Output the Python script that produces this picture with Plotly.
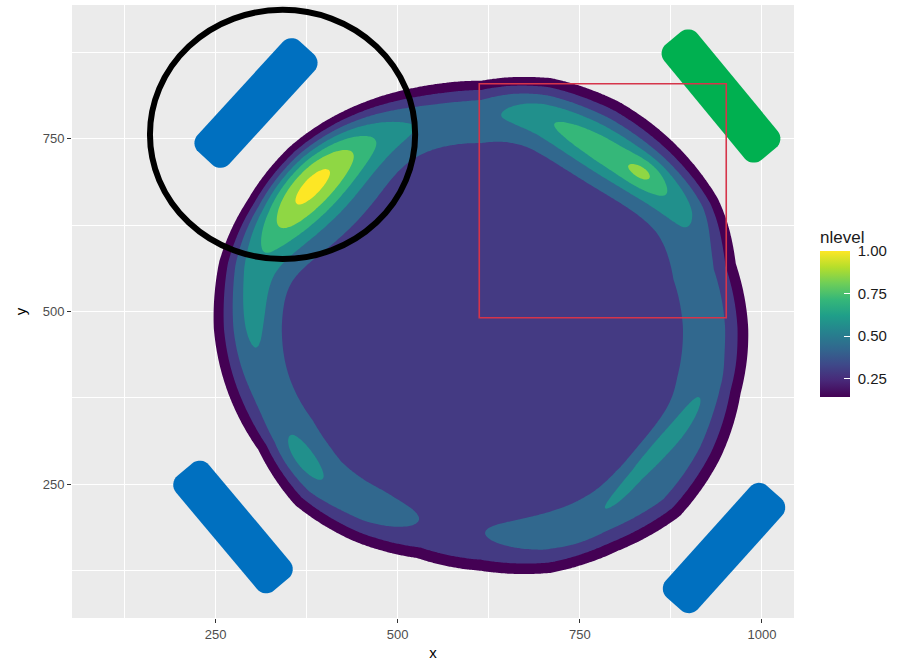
import numpy as np
import plotly.graph_objects as go

# ---------------- data ----------------
# density ring: centre, outer edge radius per angle, ring strength per angle (in contour-level units)
center_x = 615
center_y = 476
edge_angle_deg = [0, 15, 30, 45, 60, 75, 90, 105, 120, 135, 150, 165,
                  180, 195, 210, 225, 240, 255, 270, 285, 300, 315, 330, 345]
edge_radius = [366, 361, 373, 376, 378, 374, 357, 359, 362, 366, 365, 370,
               367, 360, 353, 362, 355, 345, 352, 367, 373, 385, 378, 368]
ring_strength = [1.10, 1.10, 1.15, 1.15, 1.15, 1.15, 1.20, 1.25, 1.30, 1.30, 1.25, 1.15,
                 1.05, 1.02, 1.02, 1.05, 0.95, 0.40, 0.45, 0.90, 1.00, 1.10, 1.15, 1.10]
interior_level = 2.55

# local maxima of the density (hot spots)
hot_x = [380, 790, 838, 300, 366, 845]
hot_y = [682, 722, 702, 505, 288, 290]
hot_peak = [3.55, 2.15, 0.8, 0.75, 0.85, 1.15]
hot_len = [80, 95, 20, 60, 40, 75]
hot_wid = [40, 25, 13, 20, 18, 12]
hot_dir = [47, -32, -32, 90, 128, 50]

n_levels = 7
nlevel_ticks = [0.25, 0.50, 0.75, 1.00]
x_ticks = [250, 500, 750, 1000]
y_ticks = [250, 500, 750]

# ---------------- density field ----------------
gx = np.arange(180, 1050, 3.0)
gy = np.arange(60, 900, 3.0)
X, Y = np.meshgrid(gx, gy)
dx = X - center_x
dy = Y - center_y
r = np.hypot(dx, dy)
th = np.degrees(np.arctan2(dy, dx)) % 360
R = np.interp(th, edge_angle_deg, edge_radius, period=360)
A = np.interp(th, edge_angle_deg, ring_strength, period=360)
u = r / R
S = 1.0 / (1.0 + np.exp((u - 0.985) / 0.03))
T = interior_level + A * np.exp(-((u - 0.85) / 0.1) ** 2)
for hx, hy, hp, hl, hw, hd in zip(hot_x, hot_y, hot_peak, hot_len, hot_wid, hot_dir):
    c, s = np.cos(np.radians(hd)), np.sin(np.radians(hd))
    ddx, ddy = X - hx, Y - hy
    a = c * ddx + s * ddy
    b = -s * ddx + c * ddy
    T = T + hp * np.exp(-0.5 * ((a / hl) ** 2 + (b / hw) ** 2))
Z = S * T

band_colors = ["rgba(0,0,0,0)", "#440154", "#443A83", "#31688E", "#21908C",
               "#35B779", "#8FD744", "#FDE725"]
cscale = [[i / n_levels, col] for i, col in enumerate(band_colors)]

fig = go.Figure()
fig.add_trace(go.Contour(
    x=gx, y=gy, z=Z, autocontour=False,
    contours=dict(start=1, end=n_levels, size=1, coloring="fill", showlines=False),
    line=dict(width=0, smoothing=1), colorscale=cscale, showscale=False,
    hoverinfo="skip"))

# colour bar (continuous viridis, like ggplot)
cb_left, cb_right, cb_bottom = 820, 850, 397
fig.add_trace(go.Scatter(
    x=[0], y=[0], mode="markers", hoverinfo="skip", showlegend=False,
    marker=dict(color=[0.5], colorscale="Viridis", cmin=1 / n_levels, cmax=1.0,
                showscale=True,
                colorbar=dict(
                    title=dict(text="nlevel", side="top",
                               font=dict(size=17, color="#1a1a1a")),
                    thickness=cb_right - cb_left, lenmode="pixels", len=170,
                    x=(cb_left - 72) / 722, xanchor="left", xpad=0,
                    y=(618 - (cb_bottom - 85)) / 613, yanchor="middle", ypad=0,
                    outlinewidth=0, ticks="inside", ticklen=6,
                    tickcolor="white", tickwidth=1.2,
                    tickvals=nlevel_ticks,
                    ticktext=["\u00a0%.2f" % v for v in nlevel_ticks],
                    tickfont=dict(size=15, color="#1a1a1a")))))

# ---------------- overlays ----------------
L, B, PW, PH = 72, 618, 722, 613


def px2paper(px, py):
    return (px - L) / PW, (B - py) / PH


def rounded_bar(cx, cy, length, width, ang, rad, n=8):
    a = np.radians(ang)
    ux, uy = np.cos(a), -np.sin(a)
    vx, vy = -uy, ux
    hl, hw = length / 2 - rad, width / 2 - rad
    pts = []
    for sx, sy, start in [(1, 1, 0), (-1, 1, 90), (-1, -1, 180), (1, -1, 270)]:
        for k in range(n + 1):
            t = np.radians(start + 90 * k / n)
            lx = sx * hl + rad * np.cos(t)
            ly = sy * hw + rad * np.sin(t)
            px = cx + lx * ux + ly * vx
            py = cy + lx * uy + ly * vy
            pts.append(px2paper(px, py))
    return "M " + " L ".join("%.5f,%.5f" % p for p in pts) + " Z"


shapes = []
for cx, cy, ang, col in [(256, 103, 47.5, "#0070C0"), (721, 96, -50.5, "#00B050"),
                         (233, 527, -50, "#0070C0"), (724, 548, 48, "#0070C0")]:
    shapes.append(dict(type="path", xref="paper", yref="paper",
                       path=rounded_bar(cx, cy, 150, 43, ang, 12),
                       fillcolor=col, line=dict(width=0), layer="above"))
shapes.append(dict(type="rect", xref="x", yref="y", x0=612, x1=951, y0=491, y1=830,
                   line=dict(color="#d6344a", width=1.6), layer="above"))
shapes.append(dict(type="circle", xref="x", yref="y", x0=160, x1=524, y0=576, y1=937,
                   line=dict(color="black", width=6), layer="above"))

fig.update_layout(
    width=902, height=663,
    margin=dict(l=72, r=108, t=5, b=45),
    paper_bgcolor="white", plot_bgcolor="#EBEBEB",
    font=dict(family="Liberation Sans, Arial, sans-serif"),
    showlegend=False, shapes=shapes,
    xaxis=dict(range=[53, 1044], tickvals=x_ticks, ticks="outside", ticklen=4,
               tickcolor="#333333", tickwidth=1.1,
               tickfont=dict(size=13, color="#4d4d4d"),
               showgrid=True, gridcolor="white", gridwidth=1.4, zeroline=False,
               minor=dict(tickvals=[125, 375, 625, 875], showgrid=True,
                          gridcolor="white", gridwidth=0.7),
               title=dict(text="x", font=dict(size=15, color="black"), standoff=6)),
    yaxis=dict(range=[56, 944], tickvals=y_ticks, ticks="outside", ticklen=4,
               tickcolor="#333333", tickwidth=1.1,
               tickfont=dict(size=13, color="#4d4d4d"),
               showgrid=True, gridcolor="white", gridwidth=1.4, zeroline=False,
               minor=dict(tickvals=[125, 375, 625, 875], showgrid=True,
                          gridcolor="white", gridwidth=0.7),
               title=dict(text="y", font=dict(size=15, color="black"), standoff=12)),
)

fig.write_html("out.html")
